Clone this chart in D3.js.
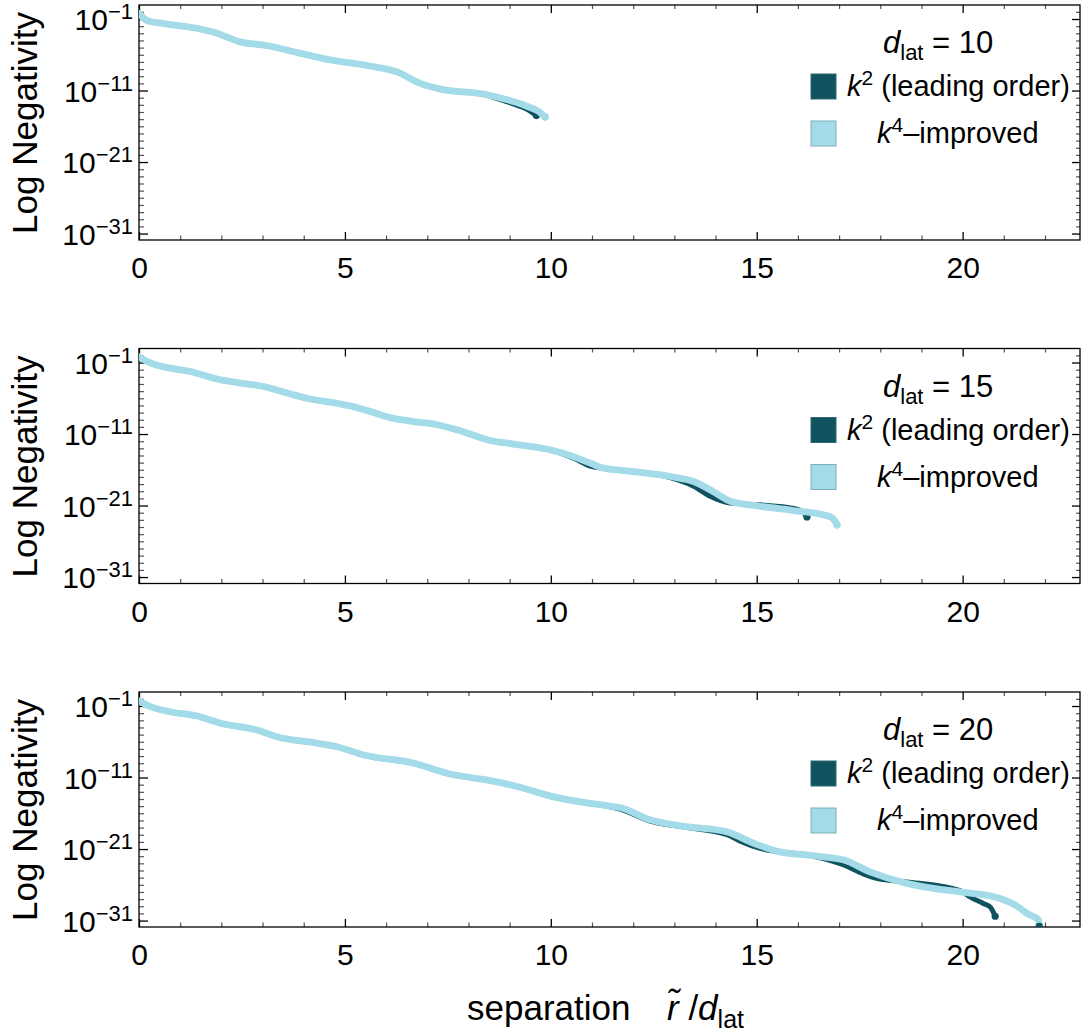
<!DOCTYPE html>
<html lang="en">
<head>
<meta charset="UTF-8">
<title>Log Negativity vs separation</title>
<style>
  body { margin: 0; background: #fff; }
  text { font-family: "Liberation Sans", Arial, sans-serif; fill: #000; }
</style>
</head>
<body>
<div id="chart"></div>
<script src="https://cdn.jsdelivr.net/npm/d3@7"></script>
<script>
// values: [r/d_lat, log10(negativity)]
const dlatValues = [10, 15, 20]

const k4_d10 = [[0,-0.2],[0.19,-1.2],[0.68,-1.7],[1.49,-2.4],[1.82,-2.85],[2.46,-4.2],[3.1,-4.7],[3.92,-5.8],
  [4.73,-6.8],[5.54,-7.5],[6.27,-8.4],[6.83,-10.0],[7.32,-10.8],[8.37,-11.5],[8.94,-12.3],[9.42,-13.2],[9.7,-13.9],[9.86,-14.7]]
const k2_d10 = [[0,-0.2],[0.19,-1.2],[0.68,-1.7],[1.49,-2.45],[1.82,-2.9],[2.46,-4.25],[3.1,-4.75],[3.92,-5.85],
  [4.73,-6.85],[5.54,-7.55],[6.27,-8.45],[6.83,-10.05],[7.32,-10.85],[8.37,-11.55],[8.9,-12.5],[9.2,-13.1],[9.45,-13.7],[9.65,-14.5]]

const k4_d15 = [[0,-0.16],[0.2,-0.86],[0.52,-1.5],[1.25,-2.26],[1.9,-3.3],[2.38,-3.8],[3.03,-4.36],[3.68,-5.4],
  [4.08,-6.0],[4.81,-6.7],[5.13,-7.06],[5.62,-7.85],[6.1,-8.7],[6.67,-9.25],[7.24,-9.7],[7.72,-10.4],[8.53,-11.9],
  [9.1,-12.4],[9.9,-13.1],[10.3,-13.7],[10.96,-15.07],[11.28,-15.77],[11.85,-16.15],[12.9,-16.94],[13.47,-17.64],
  [13.87,-18.8],[14.36,-20.4],[15.08,-21.1],[15.9,-21.7],[16.62,-22.3],[16.85,-22.8],[16.95,-23.7]]
const k2_d15 = [[0,-0.16],[0.2,-0.86],[0.52,-1.55],[1.25,-2.3],[1.9,-3.35],[2.38,-3.85],[3.03,-4.4],[3.68,-5.45],
  [4.08,-6.05],[4.81,-6.75],[5.13,-7.1],[5.62,-7.9],[6.1,-8.75],[6.67,-9.3],[7.24,-9.75],[7.72,-10.45],[8.53,-11.95],
  [9.1,-12.45],[9.9,-13.15],[10.3,-13.8],[10.6,-14.5],[10.96,-15.5],[11.28,-15.8],[11.85,-16.2],[12.9,-17.1],
  [13.47,-18.3],[13.87,-19.7],[14.36,-20.66],[15.08,-20.9],[15.9,-21.4],[16.1,-21.8],[16.22,-22.6]]

const k4_d20 = [[0,-0.26],[0.28,-1.1],[0.76,-1.8],[1.41,-2.4],[1.98,-3.4],[2.87,-4.36],[3.35,-5.3],[4.33,-6.2],
  [4.81,-6.7],[5.46,-7.85],[6.68,-9.0],[7.48,-10.4],[8.7,-11.6],[9.34,-12.5],[10.0,-13.6],[10.5,-14.2],[11.44,-15.0],
  [11.68,-15.2],[12.41,-16.9],[13.2,-17.8],[14.28,-18.6],[14.93,-20.2],[15.57,-21.4],[16.3,-21.9],[17.1,-22.5],
  [17.75,-24.2],[18.64,-25.8],[19.3,-26.5],[19.94,-27.0],[20.91,-27.9],[21.3,-28.9],[21.56,-30.0],[21.84,-30.9],[21.86,-31.6]]
const k2_d20 = [[0,-0.26],[0.28,-1.1],[0.76,-1.85],[1.41,-2.45],[1.98,-3.45],[2.87,-4.4],[3.35,-5.35],[4.33,-6.25],
  [4.81,-6.75],[5.46,-7.9],[6.68,-9.05],[7.48,-10.45],[8.7,-11.65],[9.34,-12.55],[10.0,-13.65],[10.5,-14.25],[11.44,-15.1],
  [11.68,-15.4],[12.41,-17.1],[13.2,-17.9],[14.28,-19.0],[14.6,-19.9],[15.08,-20.9],[15.57,-21.4],[16.3,-21.9],
  [17.1,-23.2],[17.6,-24.5],[17.99,-25.2],[18.64,-25.6],[19.94,-26.8],[20.18,-27.7],[20.5,-28.6],[20.67,-29.1],[20.79,-30.4]]
const k2_d20_tail = [[21.86,-31.8]]

const seriesK2 = [k2_d10, k2_d15, k2_d20]
const seriesK4 = [k4_d10, k4_d15, k4_d20]
const extraK2 = [[], [], k2_d20_tail]

const xMajor = [0, 5, 10, 15, 20]
const xMinor = d3.range(0, 23)
const yMajor = [-1, -11, -21, -31]
const yMinor = d3.range(-31, 1)
const legendNames = ['(leading order)', '–improved']

let darkColor = '#10535f'
let lightColor = '#a3dbe8'

let width = 1083
let height = 1034
let left = 139
let right = 1080
let panelH = 235
let tops = [5, 348.5, 692]

let svg = d3.select('#chart').append('svg').attr('width', width).attr('height', height)

let x = d3.scaleLinear().domain([0, 22.85]).range([left, right])

dlatValues.forEach((dl, i) => {
  let top = tops[i]
  let y = d3.scaleLog().domain([Math.pow(10, -31.9), Math.pow(10, 0.96)]).range([top + panelH, top])
  let g = svg.append('g').attr('class', 'panel')

  // clip
  g.append('clipPath').attr('id', 'clip' + i).append('rect')
    .attr('x', left).attr('y', top).attr('width', right - left).attr('height', panelH)

  // minor ticks (every unit / every decade)
  let minorX = d3.axisBottom(x).tickValues(xMinor.filter(v => xMajor.indexOf(v) < 0)).tickSize(-4.5).tickFormat('')
  let minorXTop = d3.axisTop(x).tickValues(xMinor.filter(v => xMajor.indexOf(v) < 0)).tickSize(-4).tickFormat('')
  let minorY = d3.axisLeft(y).tickValues(yMinor.filter(v => yMajor.indexOf(v) < 0).map(v => Math.pow(10, v))).tickSize(-5).tickFormat('')
  let minorYR = d3.axisRight(y).tickValues(yMinor.filter(v => yMajor.indexOf(v) < 0).map(v => Math.pow(10, v))).tickSize(-4).tickFormat('')
  g.append('g').attr('transform', 'translate(0,' + (top + panelH) + ')').call(minorX)
  g.append('g').attr('transform', 'translate(0,' + top + ')').call(minorXTop)
  g.append('g').attr('transform', 'translate(' + left + ',0)').call(minorY)
  g.append('g').attr('transform', 'translate(' + right + ',0)').call(minorYR)
  g.selectAll('.tick line').attr('stroke', '#555').attr('stroke-width', 1.2)

  // major ticks
  let xAx = d3.axisBottom(x).tickValues(xMajor).tickSizeInner(-8).tickSizeOuter(0).tickPadding(17).tickFormat(d3.format('d'))
  let xAxTop = d3.axisTop(x).tickValues(xMajor).tickSize(-8).tickFormat('')
  let yAx = d3.axisLeft(y).tickValues(yMajor.map(v => Math.pow(10, v))).tickSizeInner(-9).tickSizeOuter(0).tickPadding(6).tickFormat('')
  let yAxR = d3.axisRight(y).tickValues(yMajor.map(v => Math.pow(10, v))).tickSize(-8).tickFormat('')
  let gx = g.append('g').attr('class', 'xMajor').attr('transform', 'translate(0,' + (top + panelH) + ')').call(xAx)
  g.append('g').attr('class', 'major').attr('transform', 'translate(0,' + top + ')').call(xAxTop)
  let gy = g.append('g').attr('class', 'yMajor').attr('transform', 'translate(' + left + ',0)').call(yAx)
  g.append('g').attr('class', 'major').attr('transform', 'translate(' + right + ',0)').call(yAxR)
  g.selectAll('.xMajor .tick line, .yMajor .tick line, .major .tick line').attr('stroke', '#000').attr('stroke-width', 1.3)
  g.selectAll('.domain').remove()

  gx.selectAll('.tick text').attr('font-size', 30).attr('font-family', '"Liberation Sans", Arial, sans-serif').attr('fill', '#000')
  gy.selectAll('.tick text').each(function (d) {
    let t = d3.select(this)
    t.attr('font-size', 30).attr('font-family', '"Liberation Sans", Arial, sans-serif').attr('fill', '#000').attr('dy', '0.36em')
    t.append('tspan').text('10')
    t.append('tspan').attr('font-size', 22).attr('dy', -11).text('−' + Math.round(-Math.log10(d)))
  })

  // frame
  g.append('rect').attr('x', left).attr('y', top).attr('width', right - left).attr('height', panelH)
    .attr('fill', 'none').attr('stroke', '#000').attr('stroke-width', 1.3)

  // curves
  let line = d3.line().x(d => x(d[0])).y(d => y(Math.pow(10, d[1]))).curve(d3.curveMonotoneX)
  let plot = g.append('g').attr('clip-path', 'url(#clip' + i + ')')
  plot.append('path').datum(seriesK2[i]).attr('d', line).attr('fill', 'none')
    .attr('stroke', darkColor).attr('stroke-width', 5).attr('stroke-linecap', 'round').attr('stroke-linejoin', 'round')
  let lastK2 = seriesK2[i][seriesK2[i].length - 1]
  plot.append('circle').attr('cx', x(lastK2[0])).attr('cy', y(Math.pow(10, lastK2[1]))).attr('r', 3.6).attr('fill', darkColor)
  plot.append('path').datum(seriesK4[i]).attr('d', line).attr('fill', 'none')
    .attr('stroke', lightColor).attr('stroke-width', 6.8).attr('stroke-linecap', 'round').attr('stroke-linejoin', 'round')
  let lastK4 = seriesK4[i][seriesK4[i].length - 1]
  plot.append('circle').attr('cx', x(lastK4[0])).attr('cy', y(Math.pow(10, lastK4[1]))).attr('r', 3.7).attr('fill', lightColor)
  extraK2[i].forEach(p => {
    plot.append('circle').attr('cx', x(p[0])).attr('cy', y(Math.pow(10, p[1]))).attr('r', 3.6).attr('fill', darkColor)
  })

  // legend
  let lt = g.append('text').attr('x', 883).attr('y', top + 48).attr('font-size', 31)
  lt.append('tspan').attr('font-style', 'italic').text('d')
  lt.append('tspan').attr('font-size', 22).attr('dy', 7).text('lat')
  lt.append('tspan').attr('dy', -7).text(' = ' + dl)

  g.append('rect').attr('x', 811).attr('y', top + 69).attr('width', 25).attr('height', 25)
    .attr('fill', darkColor).attr('stroke', '#2e6a75').attr('stroke-width', 1)
  g.append('rect').attr('x', 811).attr('y', top + 116).attr('width', 25).attr('height', 25)
    .attr('fill', lightColor).attr('stroke', '#7eaeb9').attr('stroke-width', 1)

  let l1 = g.append('text').attr('x', 847).attr('y', top + 91).attr('font-size', 29)
  l1.append('tspan').attr('font-style', 'italic').text('k')
  l1.append('tspan').attr('font-size', 21).attr('dy', -11).text('2')
  l1.append('tspan').attr('dy', 11).text(' ' + legendNames[0])
  let l2 = g.append('text').attr('x', 877).attr('y', top + 138).attr('font-size', 29)
  l2.append('tspan').attr('font-style', 'italic').text('k')
  l2.append('tspan').attr('font-size', 21).attr('dy', -11).text('4')
  l2.append('tspan').attr('dy', 11).text(legendNames[1])

  // y title
  svg.append('text').attr('transform', 'translate(37,' + (top + 118) + ') rotate(-90)')
    .attr('text-anchor', 'middle').attr('font-size', 35).text('Log Negativity')
})

// x title
svg.append('text').attr('x', 467).attr('y', 1020).attr('font-size', 35).text('separation')
let xt = svg.append('text').attr('x', 667).attr('y', 1020).attr('font-size', 35)
xt.append('tspan').attr('font-style', 'italic').text('r\u0303')
xt.append('tspan').text(' /')
xt.append('tspan').attr('font-style', 'italic').text('d')
xt.append('tspan').attr('font-size', 25).attr('dy', 8).text('lat')
</script>
</body>
</html>
